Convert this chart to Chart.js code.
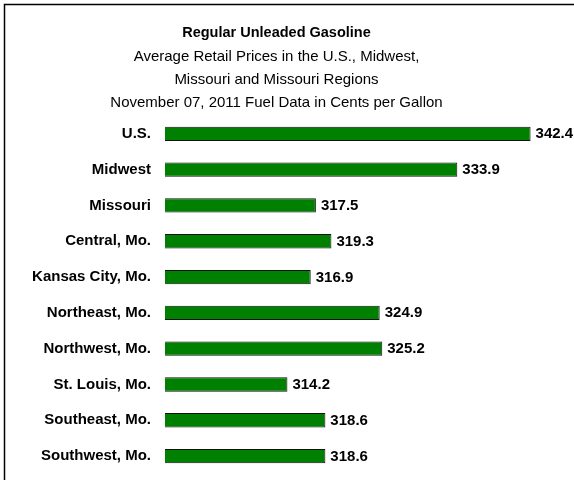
<!DOCTYPE html>
<html>
<head>
<meta charset="utf-8">
<script src="https://cdn.jsdelivr.net/npm/chart.js@4"></script>
<style>
html,body{margin:0;padding:0;background:#fff;}
#wrap{width:574px;height:480px;position:relative;}
</style>
</head>
<body>
<div id="wrap"><canvas id="c" width="574" height="480"></canvas></div>
<script>
const categories = ["U.S.", "Midwest", "Missouri", "Central, Mo.", "Kansas City, Mo.", "Northeast, Mo.", "Northwest, Mo.", "St. Louis, Mo.", "Southeast, Mo.", "Southwest, Mo."];
const prices = [342.4, 333.9, 317.5, 319.3, 316.9, 324.9, 325.2, 314.2, 318.6, 318.6];
const titleText = "Regular Unleaded Gasoline";
const subtitleLines = ["Average Retail Prices in the U.S., Midwest,", "Missouri and Missouri Regions", "November 07, 2011 Fuel Data in Cents per Gallon"];

const FONT = "'Liberation Sans', Arial, sans-serif";

const frame = {
  id: 'frame',
  beforeDraw(chart) {
    const ctx = chart.ctx;
    ctx.save();
    ctx.fillStyle = '#fff';
    ctx.fillRect(0, 0, chart.width, chart.height);
    ctx.strokeStyle = '#000';
    ctx.lineWidth = 1.5;
    ctx.beginPath();
    ctx.moveTo(4.5, chart.height + 5);
    ctx.lineTo(4.5, 4.5);
    ctx.lineTo(chart.width + 5, 4.5);
    ctx.stroke();
    ctx.restore();
  }
};

const valueLabels = {
  id: 'valueLabels',
  afterDatasetsDraw(chart) {
    const ctx = chart.ctx;
    const meta = chart.getDatasetMeta(0);
    ctx.save();
    ctx.font = "bold 15px " + FONT;
    ctx.fillStyle = '#000';
    ctx.textAlign = 'left';
    ctx.textBaseline = 'middle';
    meta.data.forEach((bar, i) => {
      ctx.fillText(prices[i].toFixed(1), bar.x + 5, bar.y + 0.5);
    });
    ctx.restore();
  }
};

new Chart(document.getElementById('c'), {
  type: 'bar',
  data: {
    labels: categories,
    datasets: [{
      data: prices,
      backgroundColor: '#008000',
      borderColor: '#111',
      borderWidth: 1,
      borderSkipped: false,
      categoryPercentage: 1,
      barPercentage: 0.4
    }]
  },
  options: {
    indexAxis: 'y',
    responsive: false,
    animation: false,
    layout: { padding: { left: 0, right: 21, top: 0, bottom: 6 } },
    plugins: {
      legend: { display: false },
      tooltip: { enabled: false },
      title: {
        display: true,
        text: titleText,
        color: '#000',
        font: { family: FONT, size: 14.5, weight: 'bold', lineHeight: 1.2 },
        padding: { top: 24, bottom: 4 }
      },
      subtitle: {
        display: true,
        text: subtitleLines,
        color: '#000',
        font: { family: FONT, size: 15, weight: 'normal', lineHeight: 23 / 15 },
        padding: { top: 0, bottom: 1.5 }
      }
    },
    scales: {
      x: {
        display: false,
        min: 300,
        max: 345
      },
      y: {
        grid: { display: false, drawTicks: false },
        border: { display: false },
        ticks: {
          color: '#000',
          padding: 14,
          font: { family: FONT, size: 15, weight: 'bold' }
        },
        afterFit(scale) {
          scale.width = 165;
          scale.paddingTop = 0;
          scale.paddingBottom = 0;
        }
      }
    }
  },
  plugins: [frame, valueLabels]
});
</script>
</body>
</html>
